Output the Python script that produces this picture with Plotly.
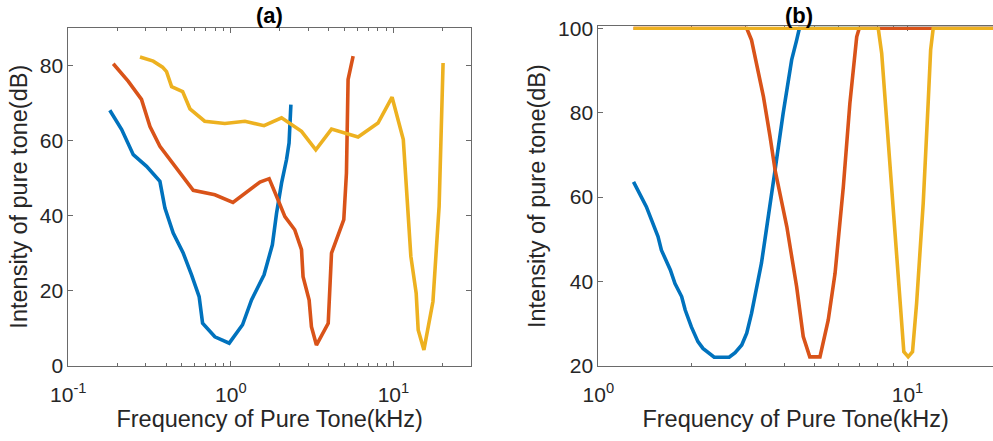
import math
import plotly.graph_objects as go

# ---- Panel (a): tuning curves, frequency (kHz) vs threshold intensity (dB)
blue_a_freq = [0.180, 0.213, 0.251, 0.303, 0.366, 0.393, 0.442, 0.509, 0.573, 0.638, 0.670,
               0.797, 0.977, 1.18, 1.34, 1.60, 1.80, 1.91, 2.05, 2.20, 2.28, 2.34]
blue_a_db = [68.0, 62.9, 56.2, 53.1, 49.1, 42.0, 35.3, 30.0, 24.2, 18.4, 11.3,
             7.7, 6.0, 10.9, 17.5, 24.2, 32.2, 40.6, 48.6, 54.9, 59.3, 69.5]

orange_a_freq = [0.189, 0.234, 0.282, 0.318, 0.366, 0.464, 0.587, 0.797, 1.03, 1.51, 1.72,
                 1.91, 2.15, 2.47, 2.72, 2.78, 3.03, 3.13, 3.36, 3.97, 4.16, 4.95, 5.14, 5.26, 5.65]
orange_a_db = [80.4, 75.7, 70.9, 63.7, 58.4, 52.6, 46.7, 45.5, 43.5, 48.9, 49.8,
               45.1, 39.7, 36.2, 30.9, 23.7, 17.5, 10.4, 5.5, 11.3, 30.0, 38.9, 51.3, 76.2, 82.4]

yellow_a_freq = [0.276, 0.333, 0.380, 0.402, 0.432, 0.505, 0.560, 0.690, 0.918, 1.22, 1.60,
                 2.05, 2.72, 3.33, 4.16, 6.06, 8.04, 9.81, 11.5, 12.3, 12.8, 13.8, 14.2,
                 15.4, 17.5, 19.1, 19.5, 20.2]
yellow_a_db = [82.2, 81.1, 79.5, 78.3, 74.3, 73.0, 68.4, 65.1, 64.5, 65.1, 63.9,
               66.0, 62.4, 57.5, 63.0, 60.9, 64.6, 71.5, 60.2, 40.6, 29.1, 19.3, 9.5,
               4.2, 17.1, 42.4, 58.4, 80.6]

# ---- Panel (b): simulated tuning curves, capped at 100 dB
blue_b_freq = [1.30, 1.43, 1.56, 1.60, 1.71, 1.77, 1.86, 1.91, 2.00, 2.10, 2.18, 2.27, 2.37,
               2.65, 2.77, 2.91, 3.02, 3.13, 3.25, 3.37, 3.50, 3.59, 3.73, 3.96, 4.22,
               4.38, 4.47, 20.0]
blue_b_db = [63.6, 57.7, 50.6, 47.4, 42.7, 39.5, 36.4, 33.2, 29.2, 25.7, 24.1, 23.1, 22.0,
             22.0, 23.1, 24.9, 27.7, 32.4, 38.7, 44.3, 52.5, 57.7, 66.4, 79.8, 92.5,
             97.2, 100.0, 100.0]

orange_b_freq = [1.30, 3.02, 3.13, 3.25, 3.42, 3.59, 3.73, 4.07, 4.38, 4.60, 4.83, 5.21,
                 5.54, 5.83, 6.20, 6.51, 6.85, 6.98, 20.0]
orange_b_db = [100.0, 100.0, 97.2, 91.7, 83.8, 74.5, 66.4, 53.0, 38.7, 26.9, 22.1, 22.1,
               30.8, 41.9, 62.4, 82.2, 98.0, 100.0, 100.0]

yellow_b_freq = [1.30, 8.04, 8.25, 8.56, 8.99, 9.44, 9.73, 10.05, 10.38, 10.70, 11.24,
                 11.66, 11.88, 12.11, 20.0]
yellow_b_db = [100.0, 100.0, 94.1, 78.3, 58.5, 34.8, 23.3, 22.1, 23.3, 34.8, 58.5,
               82.2, 94.9, 100.0, 100.0]

# ---- Axis tick labels
decade_vals_a = [0.1, 1, 10]
decade_text_a = ["10<sup>-1</sup>", "10<sup>0</sup>", "10<sup>1</sup>"]
decade_vals_b = [1, 10]
decade_text_b = ["10<sup>0</sup>", "10<sup>1</sup>"]
db_ticks_a = [0, 20, 40, 60, 80]
db_ticks_b = [20, 40, 60, 80, 100]
minor_a = [0.2, 0.3, 0.4, 0.5, 0.6, 0.7, 0.8, 0.9, 2, 3, 4, 5, 6, 7, 8, 9, 20]
minor_b = [2, 3, 4, 5, 6, 7, 8, 9, 20]

COLORS = ["#0072BD", "#D95319", "#EDB120"]
FONT = "Arial, Liberation Sans, Helvetica, sans-serif"
TEXT = "#262626"
AXIS = "#6a6a6a"
LW = 3.6

fig = go.Figure()
for xs, ys, c in [(blue_a_freq, blue_a_db, COLORS[0]),
                  (orange_a_freq, orange_a_db, COLORS[1]),
                  (yellow_a_freq, yellow_a_db, COLORS[2])]:
    fig.add_trace(go.Scatter(x=xs, y=ys, mode="lines", xaxis="x", yaxis="y",
                             line=dict(color=c, width=LW), hoverinfo="x+y"))
for xs, ys, c in [(blue_b_freq, blue_b_db, COLORS[0]),
                  (orange_b_freq, orange_b_db, COLORS[1]),
                  (yellow_b_freq, yellow_b_db, COLORS[2])]:
    fig.add_trace(go.Scatter(x=xs, y=ys, mode="lines", xaxis="x2", yaxis="y2",
                             line=dict(color=c, width=LW), hoverinfo="x+y"))

W, H = 993, 441


def px_x(p):
    return p / W


def px_y(p):
    return (H - p) / H


common_axis = dict(
    showgrid=False, zeroline=False, showline=True, linecolor=AXIS, linewidth=1,
    ticks="inside", ticklen=5, tickwidth=1, tickcolor=AXIS, automargin=False,
    tickfont=dict(family=FONT, size=21, color=TEXT),
)
title_font = dict(family=FONT, size=23.5, color=TEXT)
x_label_gap = 10

fig.update_layout(
    width=W, height=H,
    margin=dict(l=0, r=0, t=0, b=0, autoexpand=False),
    paper_bgcolor="white", plot_bgcolor="white",
    showlegend=False,
    xaxis=dict(
        **common_axis, type="log", range=[-1, math.log10(30)],
        domain=[px_x(68.3), px_x(471)], anchor="y", mirror="ticks",
        tickmode="array", tickvals=decade_vals_a, ticktext=decade_text_a,
        ticklabelstandoff=x_label_gap,
        minor=dict(tickmode="array", tickvals=minor_a, ticks="inside", ticklen=3,
                   tickcolor=AXIS, tickwidth=1),
        title=dict(text="Frequency of Pure Tone(kHz)", font=title_font, standoff=0),
    ),
    yaxis=dict(
        **common_axis, range=[0, 90],
        domain=[px_y(365.7), px_y(27.7)], anchor="x", mirror="ticks",
        tickmode="array", tickvals=db_ticks_a,
        title=dict(text="Intensity of pure tone(dB)", font=title_font, standoff=5),
    ),
    xaxis2=dict(
        **common_axis, type="log", range=[0, math.log10(18.9)],
        domain=[px_x(598.3), 1.0], anchor="y2", mirror="ticks", layer="below traces",
        tickmode="array", tickvals=decade_vals_b, ticktext=decade_text_b,
        ticklabelstandoff=x_label_gap,
        minor=dict(tickmode="array", tickvals=minor_b, ticks="inside", ticklen=3,
                   tickcolor=AXIS, tickwidth=1),
        title=dict(text="Frequency of Pure Tone(kHz)", font=title_font, standoff=0),
    ),
    yaxis2=dict(
        **common_axis, range=[20, 100.45],
        domain=[px_y(365.7), px_y(26.4)], anchor="x2", mirror=False, layer="below traces",
        tickmode="array", tickvals=db_ticks_b,
        title=dict(text="Intensity of pure tone(dB)", font=title_font, standoff=5),
    ),
    annotations=[
        dict(text="<b>(a)</b>", x=px_x(269.6), y=px_y(16), xref="paper", yref="paper",
             xanchor="center", yanchor="middle", showarrow=False,
             font=dict(family=FONT, size=22, color="black")),
        dict(text="<b>(b)</b>", x=px_x(799), y=px_y(16), xref="paper", yref="paper",
             xanchor="center", yanchor="middle", showarrow=False,
             font=dict(family=FONT, size=22, color="black")),
    ],
)

fig.write_html("out.html")
